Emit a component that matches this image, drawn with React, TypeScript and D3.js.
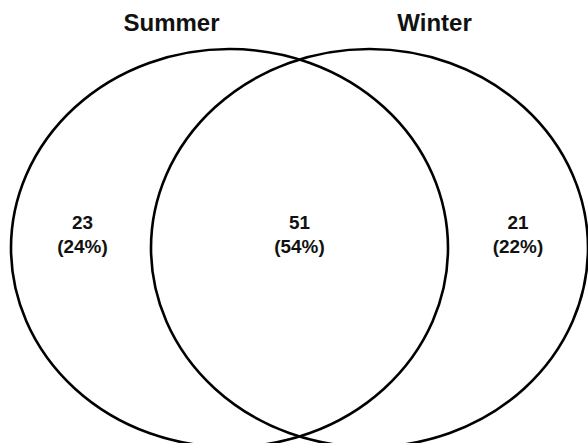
import React from "react";
import * as d3 from "d3";

const setNames = ["Summer", "Winter"];
const regionCounts = [23, 51, 21];
const regionPercents = [24, 54, 22];

const W = 588;
const H = 443;

export default function App() {
  // horizontal layout scale: domain units -> px
  const x = d3.scaleLinear().domain([0, 1]).range([229.5, 369.5]);
  const rx = 218.5;
  const ry = 199;
  const cy = 248;

  const circleCx = [x(0), x(1)];
  const titleX = [171.5, 434.5];
  const regionX = [82.5, 299.5, 518];

  const font = "'Liberation Sans', Arial, Helvetica, sans-serif";

  return (
    <svg
      width={W}
      height={H}
      viewBox={`0 0 ${W} ${H}`}
      style={{ position: "absolute", left: 0, top: 0, background: "#fff" }}
    >
      <rect x={0} y={0} width={W} height={H} fill="#fff" />
      {setNames.map((name, i) => (
        <ellipse
          key={"e" + i}
          cx={circleCx[i]}
          cy={cy}
          rx={rx}
          ry={ry}
          fill="none"
          stroke="#000"
          strokeWidth={2.6}
        />
      ))}
      {setNames.map((name, i) => (
        <text
          key={"t" + i}
          x={titleX[i]}
          y={30.5}
          textAnchor="middle"
          fontFamily={font}
          fontWeight="bold"
          fontSize={24}
          fill="#111"
        >
          {name}
        </text>
      ))}
      {regionCounts.map((c, i) => (
        <g
          key={"r" + i}
          transform={`translate(${regionX[i]},0) scale(1.08,1)`}
          fontFamily={font}
          fontWeight="bold"
          fontSize={17.5}
          fill="#111"
          textAnchor="middle"
        >
          <text x={0} y={229}>
            {c}
          </text>
          <text x={0} y={253}>
            ({regionPercents[i]}%)
          </text>
        </g>
      ))}
    </svg>
  );
}
